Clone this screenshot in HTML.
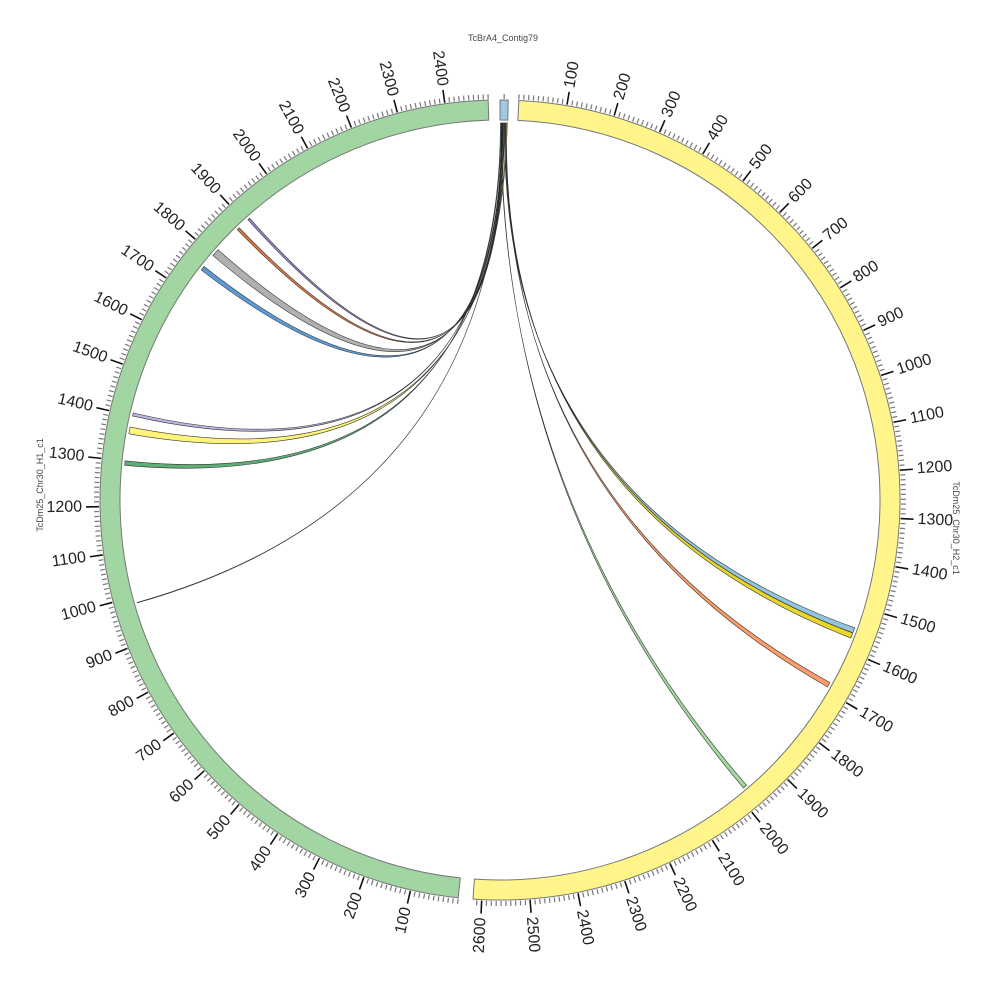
<!DOCTYPE html>
<html><head><meta charset="utf-8"><style>
html,body{margin:0;padding:0;background:#fff;}
svg{display:block;font-family:"Liberation Sans","DejaVu Sans",sans-serif;}
</style></head><body>
<svg id="chart" width="1000" height="1000" viewBox="0 0 1000 1000">
<g id="links"></g>
<g id="ideo"></g>
<g id="ticks"></g>
<text x="503" y="41" font-size="9" fill="#444" text-anchor="middle">TcBrA4_Contig79</text>
<text x="0" y="0" font-size="9" fill="#444" text-anchor="middle" transform="translate(43,485) rotate(-90)">TcDm25_Chr30_H1_c1</text>
<text x="0" y="0" font-size="9" fill="#444" text-anchor="middle" transform="translate(953,528) rotate(90)">TcDm25_Chr30_H2_c1</text>
</svg>
<script>
const segNames = ["contig79", "chr30-h2", "chr30-h1"];
const segStarts = [0, 2.7, 186];
const segLengths = [17, 2618, 2490];
const segColors = ["#9ecae1", "#fff58a", "#a1d6a3"];
const segLabeled = [false, true, true];

const linkNames = ["blue-h2","gold-h2","orange-h2","green-h2","black-h1","darkgreen-h1","yellow-h1","lavender-h1","blue-h1","grey-h1","orange-h1","purple-h1"];
const linkSrcStart = [10, 12, 13, 2, 8, 1, 14, 6, 4, 7, 9, 5];
const linkSrcEnd   = [12, 14, 14.5, 3, 8.3, 3, 16, 7, 5, 9, 10, 6];
const linkTarget   = [1, 1, 1, 1, 2, 2, 2, 2, 2, 2, 2, 2];
const linkTgtStart = [1548, 1560, 1680, 1972, 985, 1290, 1360, 1400, 1757, 1798, 1876, 1908];
const linkTgtEnd   = [1560, 1572, 1691, 1981, 986, 1300, 1375, 1407, 1767, 1815, 1882, 1913];
const linkColors   = ["#92c5de","#e8d62a","#fc9d6a","#a1d99b","#ffffff","#5fae77","#fff47a","#bcb4dc","#5b9bd5","#b0b0b0","#e07a45","#9688c8"];

const NS = "http://www.w3.org/2000/svg";
const CX = 500, CY = 500, K = 0.0692;
const R_IN = 380, R_OUT = 400, R_LINK = 377;
function ang(seg, pos){ return segStarts[seg] + pos * K; }
function pt(a, r){ const t = a * Math.PI / 180; return [CX + r * Math.sin(t), CY - r * Math.cos(t)]; }
function mk(tag, attrs){ const e = document.createElementNS(NS, tag); for (const k in attrs) e.setAttribute(k, attrs[k]); return e; }

const ideo = document.getElementById('ideo');
for (let i = 0; i < segNames.length; i++) {
  const a0 = ang(i, 0), a1 = ang(i, segLengths[i]);
  const p1 = pt(a0, R_OUT), p2 = pt(a1, R_OUT), p3 = pt(a1, R_IN), p4 = pt(a0, R_IN);
  const large = (a1 - a0) > 180 ? 1 : 0;
  const d = `M${p1[0]},${p1[1]} A${R_OUT},${R_OUT} 0 ${large} 1 ${p2[0]},${p2[1]} L${p3[0]},${p3[1]} A${R_IN},${R_IN} 0 ${large} 0 ${p4[0]},${p4[1]} Z`;
  const p = mk('path', {d: d, fill: segColors[i], stroke: '#777', 'stroke-width': 1});
  
  
  ideo.appendChild(p);
}

const ticks = document.getElementById('ticks');
for (let i = 0; i < segNames.length; i++) {
  if (!segLabeled[i]) {
    const a = ang(i, segLengths[i] / 2);
    const q1 = pt(a, 401), q2 = pt(a, 406);
    const t = mk('line', {x1: q1[0], y1: q1[1], x2: q2[0], y2: q2[1], stroke: '#777', 'stroke-width': 1.2});
    
    
    ticks.appendChild(t);
    continue;
  }
  for (let v = 0; v <= segLengths[i]; v += 10) {
    const a = ang(i, v);
    const major = v % 100 === 0 && v > 0;
    const q1 = pt(a, 401), q2 = pt(a, major ? 414 : 406);
    const t = mk('line', {x1: q1[0], y1: q1[1], x2: q2[0], y2: q2[1], stroke: major ? '#111' : '#777', 'stroke-width': major ? 1.6 : 1.2});
    
    
    ticks.appendChild(t);
    if (major) {
      const lp = pt(a, 418);
      const right = a < 180;
      const rot = right ? a - 90 : a + 90;
      const tx = mk('text', {x: 0, y: 0, 'font-size': 16, fill: '#222', 'text-anchor': right ? 'start' : 'end', 'dominant-baseline': 'central', transform: `translate(${lp[0]},${lp[1]}) rotate(${rot})`});
      tx.textContent = String(v);
      
      
      ticks.appendChild(tx);
    }
  }
}

const links = document.getElementById('links');
for (let i = 0; i < linkNames.length; i++) {
  const s0 = ang(0, linkSrcStart[i]), s1 = ang(0, linkSrcEnd[i]);
  const t0 = ang(linkTarget[i], linkTgtStart[i]), t1 = ang(linkTarget[i], linkTgtEnd[i]);
  const A = pt(s0, R_LINK), B = pt(s1, R_LINK), C = pt(t0, R_LINK), D = pt(t1, R_LINK);
  const d = `M${A[0]},${A[1]} A${R_LINK},${R_LINK} 0 0 1 ${B[0]},${B[1]} Q${CX},${CY} ${D[0]},${D[1]} A${R_LINK},${R_LINK} 0 0 0 ${C[0]},${C[1]} Q${CX},${CY} ${A[0]},${A[1]} Z`;
  const p = mk('path', {d: d, fill: linkColors[i], stroke: '#222', 'stroke-width': 0.6, 'stroke-opacity': 0.9});
  
  
  links.appendChild(p);
}
</script>
</body></html>
